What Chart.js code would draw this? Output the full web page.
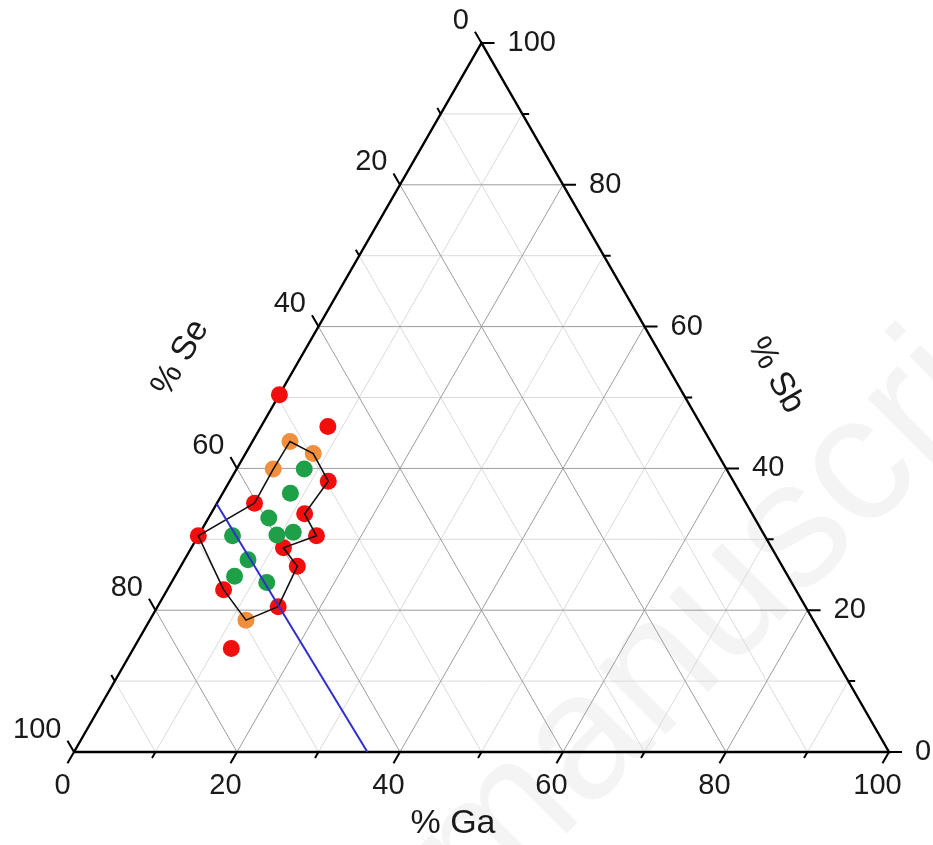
<!DOCTYPE html>
<html lang="en">
<head>
<meta charset="UTF-8">
<title>Ga-Sb-Se ternary</title>
<script src="https://cdn.jsdelivr.net/npm/chart.js"></script>
<style>
  html, body { margin: 0; padding: 0; background: #fff; }
  canvas { display: block; }
</style>
</head>
<body>
<canvas id="myChart" width="933" height="845"></canvas>
<script>
// compositions in at.% (Se = 100 - Ga - Sb)
const redGa = [0, 8.2, 12.1, 4.6, 11.5, 0, 14.5, 11.3, 14.3, 6.9, 14.8, 12.0];
const redSb = [50.4, 45.9, 38.2, 35.1, 33.6, 30.5, 30.5, 28.8, 26.2, 22.9, 20.5, 14.6];
const orangeGa = [4.6, 8.3, 4.5, 11.8];
const orangeSb = [43.8, 42.1, 39.9, 18.6];
const greenGa = [8.3, 8.3, 7.4, 4.2, 9.6, 11.4, 7.8, 7.3, 11.7];
const greenSb = [39.9, 36.5, 33.0, 30.5, 30.6, 31.0, 27.1, 24.8, 23.9];

// black outline around the samples
const hullGa = [4.6, 4.5, 4.6, 8.3, 12.1, 11.5, 14.5, 11.3, 14.3, 14.8, 11.8, 6.9, 0, 4.6];
const hullSb = [35.1, 39.9, 43.8, 42.1, 38.2, 33.6, 30.5, 28.8, 26.2, 20.5, 18.6, 22.9, 30.5, 35.1];

// blue line
const blueGa = [0, 36];
const blueSb = [35, 0];

// axes
const majorTicks = [0, 20, 40, 60, 80, 100];
const minorTicks = [10, 30, 50, 70, 90];
const gridMajor = [20, 40, 60, 80];
const gridMinor = [10, 30, 50, 70, 90];

const FONT = '"Liberation Sans", Arial, sans-serif';
const majorLen = 1.6, minorLen = 0.85;

// ternary (Ga, Sb) -> cartesian
function tern(ga, sb) {
    return { x: ga + sb / 2, y: sb };
}
const gap = { x: null, y: null };

function toPoints(gaArr, sbArr) {
    return gaArr.map((g, i) => tern(g, sbArr[i]));
}

function gridLines(levels) {
    const pts = [];
    levels.forEach(k => {
        pts.push(tern(0, k), tern(100 - k, k), gap);        // Sb = k
        pts.push(tern(k, 0), tern(k, 100 - k), gap);        // Ga = k
        pts.push(tern(100 - k, 0), tern(0, 100 - k), gap);  // Se = k
    });
    return pts;
}

function tickLines(levels, len) {
    const pts = [];
    levels.forEach(k => {
        pts.push(tern(k, 0), tern(k, -len), gap);                       // Ga axis
        pts.push(tern(100 - k, k), tern(100 - k + len, k), gap);        // Sb axis
        pts.push(tern(0, 100 - k), tern(-len, 100 - k + len), gap);     // Se axis
    });
    return pts;
}

function lineSet(data, color, width, order) {
    return {
        data: data, borderColor: color, borderWidth: width,
        pointRadius: 0, fill: false, tension: 0, spanGaps: false,
        clip: false, order: order
    };
}

function dotSet(data, color, order) {
    return {
        data: data, showLine: false, pointRadius: 8.5, pointHoverRadius: 8.5,
        pointBackgroundColor: color, pointBorderWidth: 0, borderColor: color,
        clip: false, order: order
    };
}

// texts: watermark, tick labels, axis titles
const ternaryText = {
    id: 'ternaryText',
    beforeDatasetsDraw(chart) {
        const ctx = chart.ctx;
        ctx.save();
        ctx.translate(480, 920);
        ctx.rotate(-Math.PI / 4);
        ctx.font = '180px ' + FONT;
        ctx.fillStyle = 'rgba(0,0,0,0.045)';
        ctx.textAlign = 'left';
        ctx.textBaseline = 'alphabetic';
        ctx.fillText('manuscript', 0, 0);
        ctx.restore();
    },
    afterDraw(chart) {
        const ctx = chart.ctx;
        const sx = chart.scales.x, sy = chart.scales.y;
        const px = (ga, sb) => {
            const p = tern(ga, sb);
            return { x: sx.getPixelForValue(p.x), y: sy.getPixelForValue(p.y) };
        };
        ctx.save();
        ctx.fillStyle = '#1a1a1a';
        ctx.font = '29px ' + FONT;
        ctx.textBaseline = 'middle';
        majorTicks.forEach(k => {
            // % Ga (bottom)
            let e = px(k, -majorLen);
            ctx.textAlign = 'center';
            ctx.fillText(String(k), e.x - 5, e.y + 23);
            // % Sb (right)
            e = px(100 - k + majorLen, k);
            ctx.textAlign = 'left';
            ctx.fillText(String(k), e.x + 13, e.y);
            // % Se (left)
            e = px(-majorLen, 100 - k + majorLen);
            ctx.textAlign = 'right';
            ctx.fillText(String(k), e.x - 6, e.y - 11);
        });

        ctx.font = '34px ' + FONT;
        ctx.textAlign = 'center';
        let a = px(46.5, 0);
        ctx.fillText('% Ga', a.x, a.y + 72);

        a = px(0, 55.6);
        ctx.save();
        ctx.translate(a.x - 120, a.y);
        ctx.rotate(-Math.PI / 3);
        ctx.fillText('% Se', 0, 0);
        ctx.restore();

        a = px(46.9, 53.1);
        ctx.save();
        ctx.translate(a.x + 103, a.y);
        ctx.rotate(Math.PI / 3);
        ctx.fillText('% Sb', 0, 0);
        ctx.restore();
        ctx.restore();
    }
};

const frame = [tern(0, 0), tern(100, 0), tern(0, 100), tern(0, 0)];

const config = {
    type: 'line',
    data: {
        datasets: [
            lineSet(toPoints(blueGa, blueSb), '#2f2fd0', 2, 0),
            lineSet(toPoints(hullGa, hullSb), '#111111', 1.6, 1),
            dotSet(toPoints(orangeGa, orangeSb), '#f0903f', 2),
            dotSet(toPoints(greenGa, greenSb), '#1ea048', 3),
            dotSet(toPoints(redGa, redSb), '#f40d0d', 4),
            lineSet(frame, '#000000', 2.4, 5),
            lineSet(tickLines(majorTicks, majorLen), '#000000', 2, 5),
            lineSet(tickLines(minorTicks, minorLen), '#000000', 2, 5),
            lineSet(gridLines(gridMajor), '#9c9c9c', 1, 6),
            lineSet(gridLines(gridMinor), '#dadada', 1, 7)
        ]
    },
    options: {
        responsive: false,
        animation: false,
        events: [],
        layout: { padding: { left: 74, right: 44, top: 43, bottom: 93 } },
        scales: {
            x: { type: 'linear', min: 0, max: 100, display: false },
            y: { type: 'linear', min: 0, max: 100, display: false }
        },
        plugins: {
            legend: { display: false },
            tooltip: { enabled: false }
        }
    },
    plugins: [ternaryText]
};

const ctx = document.getElementById('myChart').getContext('2d');
const chart = new Chart(ctx, config);
</script>
</body>
</html>
